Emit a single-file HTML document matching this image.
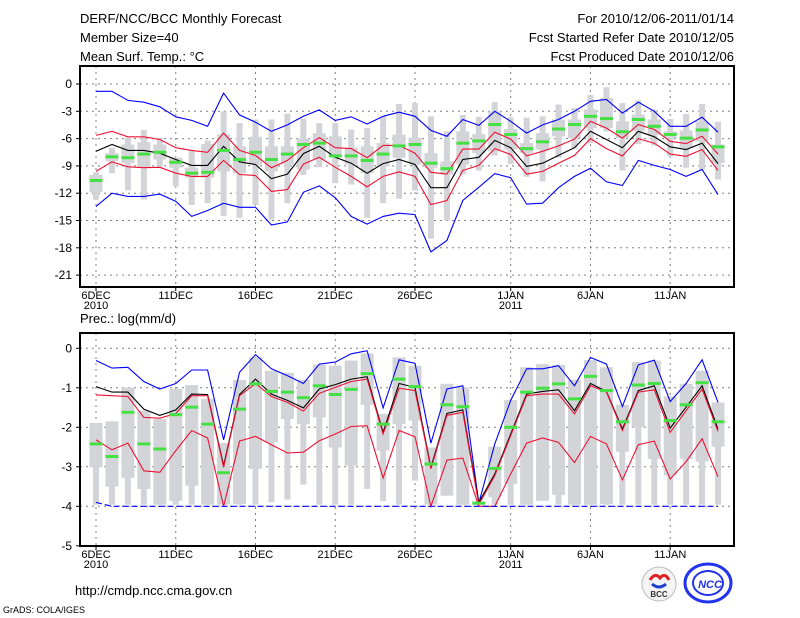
<!DOCTYPE html>
<html><head><meta charset="utf-8"><style>
body{margin:0;background:#fff;}
svg{display:block;font-family:"Liberation Sans",sans-serif;}
</style></head><body>
<svg id="c" width="800" height="618" viewBox="0 0 800 618">
<g font-size="13" fill="#000">
<text x="80" y="23">DERF/NCC/BCC Monthly Forecast</text>
<text x="80" y="42">Member Size=40</text>
<text x="80" y="61">Mean Surf. Temp.: °C</text>
<text x="734" y="23" text-anchor="end">For 2010/12/06-2011/01/14</text>
<text x="734" y="42" text-anchor="end">Fcst Started Refer Date 2010/12/05</text>
<text x="734" y="61" text-anchor="end">Fcst Produced Date 2010/12/06</text>
<text x="80" y="323">Prec.: log(mm/d)</text>
<text x="75" y="595">http://cmdp.ncc.cma.gov.cn</text>
<text x="3" y="613" font-size="9">GrADS: COLA/IGES</text>
</g>
<g>
<circle cx="659" cy="584" r="17" fill="#f4f4f4" stroke="#bbb"/>
<path d="M650 580 q5 -8 10 -2 q5 -6 9 2" fill="none" stroke="#e02020" stroke-width="3"/>
<path d="M652 584 q7 6 14 0" fill="none" stroke="#2040d0" stroke-width="3"/>
<text x="659" y="597" font-size="8" text-anchor="middle" font-weight="bold" fill="#333">BCC</text>
<ellipse cx="708" cy="583" rx="23" ry="19" fill="none" stroke="#2233ee" stroke-width="3"/>
<ellipse cx="708" cy="583" rx="15" ry="12" fill="none" stroke="#2233ee" stroke-width="2"/>
<text x="710" y="588" font-size="11" text-anchor="middle" font-weight="bold" font-style="italic" fill="#2233ee">NCC</text>
</g>
</svg>
<script>
const days=['6DEC','11DEC','16DEC','21DEC','26DEC','1JAN','6JAN','11JAN'];
const dayIdx=[0,5,10,15,20,26,31,36];
const yearLbl=['2010','','','','','2011','',''];
const tTicks=[0,-3,-6,-9,-12,-15,-18,-21];
const pTicks=[0,-1,-2,-3,-4,-5];
// Temperature
const tBlueHi=[-0.8,-0.8,-1.8,-2.0,-2.5,-3.6,-4.0,-4.65,-1.0,-3.4,-4.2,-5.2,-4.5,-3.55,-2.85,-4.0,-3.6,-4.4,-3.55,-3.1,-3.55,-5.1,-5.75,-3.9,-4.55,-3.0,-4.1,-5.4,-4.5,-3.9,-3.0,-1.9,-1.7,-3.2,-2.0,-3.0,-4.65,-4.65,-3.65,-5.3];
const tRedHi=[-5.65,-5.2,-5.8,-5.8,-6.1,-7.0,-7.3,-7.5,-5.4,-7.3,-7.85,-9.2,-8.4,-7.0,-5.9,-7.0,-7.1,-8.1,-6.75,-6.75,-7.6,-9.7,-9.9,-7.15,-7.15,-5.3,-6.05,-7.9,-7.4,-6.8,-6.05,-4.1,-4.85,-5.95,-4.45,-5.0,-6.3,-6.55,-5.75,-7.7];
const tBlack=[-7.4,-6.65,-7.3,-7.3,-7.6,-8.3,-8.95,-8.95,-6.85,-8.55,-8.85,-10.4,-9.9,-7.65,-6.85,-8.05,-8.7,-9.8,-8.75,-8.3,-8.85,-11.4,-11.4,-8.3,-8.05,-6.2,-7.0,-9.05,-8.7,-7.85,-7.0,-5.2,-6.1,-7.0,-5.2,-5.8,-6.9,-7.2,-6.5,-8.75];
const tRedLo=[-9.6,-8.55,-9.1,-9.2,-9.15,-9.8,-10.15,-10.15,-8.4,-9.95,-10.05,-11.8,-11.6,-8.8,-8.05,-9.15,-10.15,-11.3,-10.15,-9.65,-10.15,-13.25,-12.8,-9.5,-8.95,-7.1,-7.75,-9.9,-9.6,-8.7,-7.85,-6.0,-7.1,-7.9,-6.0,-6.5,-7.7,-7.95,-7.2,-9.5];
const tBlueLo=[-13.45,-12.0,-12.35,-12.35,-12.1,-12.9,-14.55,-13.9,-13.1,-13.55,-13.55,-15.5,-15.15,-11.9,-11.2,-12.5,-14.55,-15.4,-14.55,-14.2,-14.35,-18.45,-17.2,-12.8,-11.35,-9.85,-10.3,-13.2,-13.1,-11.4,-10.15,-9.25,-10.75,-11.15,-8.4,-8.95,-9.4,-10.15,-9.4,-12.15];
const tMean=[-10.6,-8.0,-8.1,-7.7,-7.5,-8.6,-9.8,-9.7,-7.3,-8.3,-7.5,-8.3,-7.7,-6.65,-6.5,-7.9,-7.9,-8.4,-7.7,-6.8,-6.65,-8.7,-9.3,-6.5,-6.25,-4.45,-5.55,-7.1,-6.35,-4.95,-4.45,-3.55,-3.8,-5.25,-3.9,-4.65,-5.55,-5.95,-5.05,-6.9];
const tMax=[-9.7,-7.0,-5.9,-5.05,-5.9,-8.1,-7.3,-6.2,-3.0,-4.3,-3.9,-3.9,-3.25,-3.8,-4.3,-4.3,-5.0,-4.85,-3.55,-2.2,-2.1,-3.55,-5.2,-3.4,-3.6,-2.0,-3.65,-3.7,-3.55,-2.25,-2.65,-1.2,-0.35,-2.1,-1.8,-2.8,-3.85,-3.3,-2.2,-4.15];
const tQ3=[-10.0,-7.6,-6.65,-6.4,-6.65,-8.1,-9.2,-6.6,-5.55,-6.85,-5.8,-6.85,-6.85,-6.0,-5.4,-5.75,-7.0,-6.85,-6.5,-5.55,-5.9,-7.6,-8.5,-5.2,-5.5,-3.0,-4.95,-6.5,-5.4,-3.9,-3.9,-2.8,-1.55,-4.1,-3.35,-3.9,-5.2,-5.1,-4.1,-6.65];
const tQ1=[-11.9,-8.5,-8.7,-9.2,-8.3,-9.2,-10.3,-10.3,-9.6,-9.8,-8.85,-9.6,-8.85,-9.4,-8.3,-7.95,-8.85,-9.8,-9.05,-8.1,-8.85,-9.2,-9.95,-8.85,-7.6,-7.4,-7.2,-7.6,-7.2,-5.75,-5.95,-4.85,-4.85,-5.95,-5.2,-5.55,-5.95,-7.0,-6.3,-8.7];
const tMin=[-12.7,-9.8,-11.7,-12.7,-9.2,-11.25,-13.3,-13.1,-14.5,-14.7,-13.3,-14.9,-13.1,-10.0,-9.15,-10.9,-11.05,-14.7,-13.1,-12.6,-11.7,-17.0,-15.0,-9.95,-9.5,-7.85,-8.8,-10.2,-10.7,-8.1,-7.1,-6.5,-5.2,-9.5,-6.6,-6.75,-7.95,-9.2,-9.4,-10.5];
// Precipitation
const pBlueHi=[-0.31,-0.5,-0.48,-0.84,-1.03,-0.89,-0.55,-0.55,-2.32,-0.61,-0.16,-0.52,-0.69,-0.89,-0.4,-0.35,-0.14,-0.06,-1.51,-0.29,-0.38,-2.4,-1.03,-0.95,-3.92,-2.42,-1.32,-0.52,-0.52,-0.44,-0.95,-0.23,-0.4,-1.47,-0.42,-0.3,-1.35,-0.89,-0.29,-1.37];
const pBlack=[-0.97,-1.11,-1.11,-1.54,-1.7,-1.56,-1.16,-1.17,-2.97,-1.17,-0.78,-1.16,-1.32,-1.51,-1.03,-0.92,-0.78,-0.72,-2.13,-0.89,-0.99,-3.01,-1.65,-1.56,-3.9,-3.18,-2.17,-1.16,-1.09,-1.05,-1.58,-0.89,-1.09,-2.04,-1.07,-0.95,-2.02,-1.49,-0.95,-2.04];
const pRedHi=[-1.18,-1.2,-1.22,-1.75,-1.77,-1.65,-1.2,-1.2,-3.01,-1.2,-0.89,-1.22,-1.37,-1.59,-1.14,-0.99,-0.84,-0.78,-2.17,-1.01,-1.07,-3.05,-1.7,-1.62,-3.96,-3.22,-2.21,-1.2,-1.16,-1.16,-1.66,-0.95,-1.11,-2.08,-1.11,-1.05,-2.13,-1.58,-1.03,-2.1];
const pRedLo=[-2.32,-2.57,-2.4,-3.1,-3.14,-2.59,-2.08,-2.27,-4.0,-2.35,-2.23,-2.44,-2.65,-2.63,-2.34,-2.17,-1.98,-1.96,-3.28,-2.08,-2.24,-4.0,-2.83,-2.78,-4.0,-4.0,-3.18,-2.4,-2.27,-2.38,-2.89,-2.23,-2.42,-3.33,-2.44,-2.35,-3.31,-2.87,-2.29,-3.25];
const pBlueLo=[-3.9,-4,-4,-4,-4,-4,-4,-4,-4,-4,-4,-4,-4,-4,-4,-4,-4,-4,-4,-4,-4,-4,-4,-4,-4,-4,-4,-4,-4,-4,-4,-4,-4,-4,-4,-4,-4,-4,-4,-4];
const pMean=[-2.42,-2.74,-1.62,-2.42,-2.55,-1.68,-1.49,-1.92,-3.15,-1.54,-0.9,-1.09,-1.11,-1.25,-0.95,-1.17,-1.04,-0.64,-1.92,-0.78,-0.97,-2.93,-1.43,-1.48,-3.92,-3.04,-2.0,-1.11,-1.01,-0.9,-1.28,-0.71,-1.07,-1.86,-0.93,-0.89,-1.83,-1.43,-0.87,-1.86];
const pMax=[-1.89,-1.85,-1.0,-1.58,-1.79,-1.03,-0.93,-1.28,-2.40,-0.80,-0.23,-0.57,-0.62,-0.80,-0.41,-0.44,-0.31,-0.13,-1.66,-0.23,-0.44,-2.51,-0.90,-0.99,-3.90,-2.49,-1.31,-0.48,-0.40,-0.42,-0.80,-0.30,-0.48,-1.43,-0.35,-0.31,-1.22,-0.90,-0.57,-1.37];
const pQ1=[-3.01,-3.50,-3.28,-3.56,-3.96,-3.86,-3.48,-3.96,-3.96,-3.94,-3.05,-2.38,-1.79,-1.92,-1.75,-2.51,-2.97,-1.43,-2.59,-1.92,-1.83,-3.96,-3.73,-3.96,-3.96,-3.77,-3.43,-3.96,-3.86,-3.71,-3.96,-3.96,-3.94,-2.62,-2.0,-2.80,-3.22,-2.80,-2.87,-2.49];
const pMin=[-3.96,-3.96,-3.96,-3.96,-3.96,-3.96,-3.96,-3.96,-3.96,-3.96,-3.96,-3.90,-3.83,-3.45,-3.96,-3.96,-3.96,-3.56,-3.87,-3.96,-3.35,-3.96,-3.73,-3.96,-3.96,-3.96,-3.96,-3.96,-3.86,-3.96,-3.96,-3.96,-3.96,-3.96,-3.96,-3.96,-3.96,-3.96,-3.96,-3.96];

const NS='http://www.w3.org/2000/svg';
const svg=document.getElementById('c');
function mk(tag,attrs,parent){const e=document.createElementNS(NS,tag);for(const k in attrs)e.setAttribute(k,attrs[k]);(parent||svg).appendChild(e);return e;}
const X0=80,X1=734;
function xs(i){return 96+15.95*i;}

function panel(name,top,bottom,y0px,pxPerUnit,ticks,boxes,lines,mean){
  const ys=v=>y0px-v*pxPerUnit;
  const g=mk('g',{});
  
  
  ticks.forEach(t=>{const y=ys(t);if(y>top+2&&y<bottom-2){const l=mk('line',{x1:X0,x2:X1,y1:y,y2:y,stroke:'#808080','stroke-dasharray':'2,4'},g);}
    const tk=mk('line',{x1:X0-4,x2:X0,y1:y,y2:y,stroke:'#000'},g);
    const tx=mk('text',{x:X0-8,y:y+4,'font-size':'12','text-anchor':'end'},g);tx.textContent=t;});
  dayIdx.forEach((d,k)=>{const x=xs(d);
    const l=mk('line',{x1:x,x2:x,y1:top,y2:bottom,stroke:'#808080','stroke-dasharray':'2,4'},g);
    const tk=mk('line',{x1:x,x2:x,y1:bottom,y2:bottom+4,stroke:'#000'},g);
    const tx=mk('text',{x:x,y:bottom+12,'font-size':'11','text-anchor':'middle'},g);tx.textContent=days[k];
    if(yearLbl[k]){const ty=mk('text',{x:x,y:bottom+22,'font-size':'11','text-anchor':'middle'},g);ty.textContent=yearLbl[k];}});
  const [mx,q3,q1,mn]=boxes;
  mx.forEach((v,i)=>{const x=xs(i);
    const w=mk('rect',{x:x-3,y:ys(mx[i]),width:6,height:Math.max(1,ys(mn[i])-ys(mx[i])),fill:'#d3d4d8'},g);
    const b=mk('rect',{x:x-6.5,y:ys(q3[i]),width:13,height:Math.max(1,ys(q1[i])-ys(q3[i])),fill:'#d3d4d8'},g);});
  lines.forEach(([arr,col,dash,nm])=>{const pts=arr.map((v,i)=>xs(i).toFixed(1)+','+ys(v).toFixed(1)).join(' ');
    const p=mk('polyline',{points:pts,fill:'none',stroke:col,'stroke-width':'1.1'},g);if(dash)p.setAttribute('stroke-dasharray',dash);
    });
  mean.forEach((v,i)=>{const r=mk('rect',{x:xs(i)-6.5,y:ys(v)-1.5,width:13,height:3,fill:'#44e044'},g);});
  const f=mk('rect',{x:X0,y:top,width:X1-X0,height:bottom-top,fill:'none',stroke:'#000','stroke-width':'2'},g);
  
}
panel('temperature-panel',66,287,84,9.1,tTicks,[tMax,tQ3,tQ1,tMin],
  [[tBlueHi,'#0000ff','', 'temp-upper-blue-line'],[tRedHi,'#ee1133','','temp-upper-red-line'],[tBlack,'#000','','temp-median-line'],[tRedLo,'#ee1133','','temp-lower-red-line'],[tBlueLo,'#0000ff','','temp-lower-blue-line']],tMean);
panel('precipitation-panel',333,546,348.3,39.5,pTicks,[pMax,pMax,pQ1,pMin],
  [[pBlueHi,'#0000ff','','prec-upper-blue-line'],[pBlack,'#000','','prec-median-line'],[pRedHi,'#ee1133','','prec-upper-red-line'],[pRedLo,'#ee1133','','prec-lower-red-line'],[pBlueLo,'#0000ff','6,3','prec-lower-blue-line']],pMean);
</script>
</body></html>
